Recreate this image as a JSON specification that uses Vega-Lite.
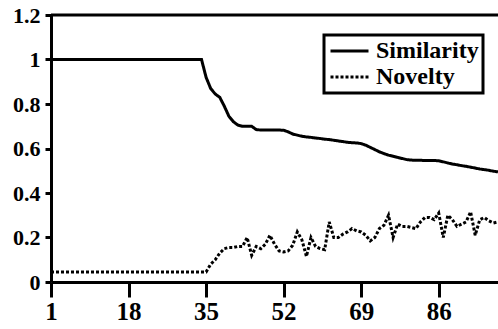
{
  "$schema": "https://vega.github.io/schema/vega-lite/v6.json",
  "width": 447,
  "height": 267,
  "autosize": {"type": "none"},
  "padding": {"left": 51, "top": 15, "right": 0, "bottom": 47},
  "background": "white",
  "config": {
    "view": {"stroke": null},
    "font": "Liberation Serif",
    "axis": {
      "grid": false,
      "domainColor": "black",
      "domainWidth": 3,
      "tickColor": "black",
      "tickWidth": 3,
      "labelColor": "black",
      "title": null
    }
  },
  "datasets": {
    "series": [
      {"x": 1, "series": "Similarity", "value": 1.0},
      {"x": 2, "series": "Similarity", "value": 1.0},
      {"x": 3, "series": "Similarity", "value": 1.0},
      {"x": 4, "series": "Similarity", "value": 1.0},
      {"x": 5, "series": "Similarity", "value": 1.0},
      {"x": 6, "series": "Similarity", "value": 1.0},
      {"x": 7, "series": "Similarity", "value": 1.0},
      {"x": 8, "series": "Similarity", "value": 1.0},
      {"x": 9, "series": "Similarity", "value": 1.0},
      {"x": 10, "series": "Similarity", "value": 1.0},
      {"x": 11, "series": "Similarity", "value": 1.0},
      {"x": 12, "series": "Similarity", "value": 1.0},
      {"x": 13, "series": "Similarity", "value": 1.0},
      {"x": 14, "series": "Similarity", "value": 1.0},
      {"x": 15, "series": "Similarity", "value": 1.0},
      {"x": 16, "series": "Similarity", "value": 1.0},
      {"x": 17, "series": "Similarity", "value": 1.0},
      {"x": 18, "series": "Similarity", "value": 1.0},
      {"x": 19, "series": "Similarity", "value": 1.0},
      {"x": 20, "series": "Similarity", "value": 1.0},
      {"x": 21, "series": "Similarity", "value": 1.0},
      {"x": 22, "series": "Similarity", "value": 1.0},
      {"x": 23, "series": "Similarity", "value": 1.0},
      {"x": 24, "series": "Similarity", "value": 1.0},
      {"x": 25, "series": "Similarity", "value": 1.0},
      {"x": 26, "series": "Similarity", "value": 1.0},
      {"x": 27, "series": "Similarity", "value": 1.0},
      {"x": 28, "series": "Similarity", "value": 1.0},
      {"x": 29, "series": "Similarity", "value": 1.0},
      {"x": 30, "series": "Similarity", "value": 1.0},
      {"x": 31, "series": "Similarity", "value": 1.0},
      {"x": 32, "series": "Similarity", "value": 1.0},
      {"x": 33, "series": "Similarity", "value": 1.0},
      {"x": 34, "series": "Similarity", "value": 1.0},
      {"x": 35, "series": "Similarity", "value": 0.92},
      {"x": 36, "series": "Similarity", "value": 0.87},
      {"x": 37, "series": "Similarity", "value": 0.845},
      {"x": 38, "series": "Similarity", "value": 0.83},
      {"x": 39, "series": "Similarity", "value": 0.79},
      {"x": 40, "series": "Similarity", "value": 0.745},
      {"x": 41, "series": "Similarity", "value": 0.72},
      {"x": 42, "series": "Similarity", "value": 0.705},
      {"x": 43, "series": "Similarity", "value": 0.7},
      {"x": 44, "series": "Similarity", "value": 0.7},
      {"x": 45, "series": "Similarity", "value": 0.7},
      {"x": 46, "series": "Similarity", "value": 0.685},
      {"x": 47, "series": "Similarity", "value": 0.683},
      {"x": 48, "series": "Similarity", "value": 0.683},
      {"x": 49, "series": "Similarity", "value": 0.683},
      {"x": 50, "series": "Similarity", "value": 0.683},
      {"x": 51, "series": "Similarity", "value": 0.683},
      {"x": 52, "series": "Similarity", "value": 0.682},
      {"x": 53, "series": "Similarity", "value": 0.675},
      {"x": 54, "series": "Similarity", "value": 0.665},
      {"x": 55, "series": "Similarity", "value": 0.66},
      {"x": 56, "series": "Similarity", "value": 0.655},
      {"x": 57, "series": "Similarity", "value": 0.652},
      {"x": 58, "series": "Similarity", "value": 0.65},
      {"x": 59, "series": "Similarity", "value": 0.647},
      {"x": 60, "series": "Similarity", "value": 0.645},
      {"x": 61, "series": "Similarity", "value": 0.642},
      {"x": 62, "series": "Similarity", "value": 0.64},
      {"x": 63, "series": "Similarity", "value": 0.637},
      {"x": 64, "series": "Similarity", "value": 0.634},
      {"x": 65, "series": "Similarity", "value": 0.631},
      {"x": 66, "series": "Similarity", "value": 0.628},
      {"x": 67, "series": "Similarity", "value": 0.626},
      {"x": 68, "series": "Similarity", "value": 0.625},
      {"x": 69, "series": "Similarity", "value": 0.622},
      {"x": 70, "series": "Similarity", "value": 0.615},
      {"x": 71, "series": "Similarity", "value": 0.605},
      {"x": 72, "series": "Similarity", "value": 0.595},
      {"x": 73, "series": "Similarity", "value": 0.585},
      {"x": 74, "series": "Similarity", "value": 0.577},
      {"x": 75, "series": "Similarity", "value": 0.57},
      {"x": 76, "series": "Similarity", "value": 0.565},
      {"x": 77, "series": "Similarity", "value": 0.56},
      {"x": 78, "series": "Similarity", "value": 0.555},
      {"x": 79, "series": "Similarity", "value": 0.55},
      {"x": 80, "series": "Similarity", "value": 0.548},
      {"x": 81, "series": "Similarity", "value": 0.547},
      {"x": 82, "series": "Similarity", "value": 0.547},
      {"x": 83, "series": "Similarity", "value": 0.546},
      {"x": 84, "series": "Similarity", "value": 0.546},
      {"x": 85, "series": "Similarity", "value": 0.546},
      {"x": 86, "series": "Similarity", "value": 0.545},
      {"x": 87, "series": "Similarity", "value": 0.54},
      {"x": 88, "series": "Similarity", "value": 0.535},
      {"x": 89, "series": "Similarity", "value": 0.53},
      {"x": 90, "series": "Similarity", "value": 0.527},
      {"x": 91, "series": "Similarity", "value": 0.523},
      {"x": 92, "series": "Similarity", "value": 0.52},
      {"x": 93, "series": "Similarity", "value": 0.516},
      {"x": 94, "series": "Similarity", "value": 0.512},
      {"x": 95, "series": "Similarity", "value": 0.508},
      {"x": 96, "series": "Similarity", "value": 0.505},
      {"x": 97, "series": "Similarity", "value": 0.502},
      {"x": 98, "series": "Similarity", "value": 0.498},
      {"x": 99, "series": "Similarity", "value": 0.495},
      {"x": 1, "series": "Novelty", "value": 0.045},
      {"x": 2, "series": "Novelty", "value": 0.045},
      {"x": 3, "series": "Novelty", "value": 0.045},
      {"x": 4, "series": "Novelty", "value": 0.045},
      {"x": 5, "series": "Novelty", "value": 0.045},
      {"x": 6, "series": "Novelty", "value": 0.045},
      {"x": 7, "series": "Novelty", "value": 0.045},
      {"x": 8, "series": "Novelty", "value": 0.045},
      {"x": 9, "series": "Novelty", "value": 0.045},
      {"x": 10, "series": "Novelty", "value": 0.045},
      {"x": 11, "series": "Novelty", "value": 0.045},
      {"x": 12, "series": "Novelty", "value": 0.045},
      {"x": 13, "series": "Novelty", "value": 0.045},
      {"x": 14, "series": "Novelty", "value": 0.045},
      {"x": 15, "series": "Novelty", "value": 0.045},
      {"x": 16, "series": "Novelty", "value": 0.045},
      {"x": 17, "series": "Novelty", "value": 0.045},
      {"x": 18, "series": "Novelty", "value": 0.045},
      {"x": 19, "series": "Novelty", "value": 0.045},
      {"x": 20, "series": "Novelty", "value": 0.045},
      {"x": 21, "series": "Novelty", "value": 0.045},
      {"x": 22, "series": "Novelty", "value": 0.045},
      {"x": 23, "series": "Novelty", "value": 0.045},
      {"x": 24, "series": "Novelty", "value": 0.045},
      {"x": 25, "series": "Novelty", "value": 0.045},
      {"x": 26, "series": "Novelty", "value": 0.045},
      {"x": 27, "series": "Novelty", "value": 0.045},
      {"x": 28, "series": "Novelty", "value": 0.045},
      {"x": 29, "series": "Novelty", "value": 0.045},
      {"x": 30, "series": "Novelty", "value": 0.045},
      {"x": 31, "series": "Novelty", "value": 0.045},
      {"x": 32, "series": "Novelty", "value": 0.045},
      {"x": 33, "series": "Novelty", "value": 0.045},
      {"x": 34, "series": "Novelty", "value": 0.045},
      {"x": 35, "series": "Novelty", "value": 0.045},
      {"x": 36, "series": "Novelty", "value": 0.08},
      {"x": 37, "series": "Novelty", "value": 0.1},
      {"x": 38, "series": "Novelty", "value": 0.13},
      {"x": 39, "series": "Novelty", "value": 0.15},
      {"x": 40, "series": "Novelty", "value": 0.155},
      {"x": 41, "series": "Novelty", "value": 0.155},
      {"x": 42, "series": "Novelty", "value": 0.16},
      {"x": 43, "series": "Novelty", "value": 0.16},
      {"x": 44, "series": "Novelty", "value": 0.2},
      {"x": 45, "series": "Novelty", "value": 0.12},
      {"x": 46, "series": "Novelty", "value": 0.16},
      {"x": 47, "series": "Novelty", "value": 0.15},
      {"x": 48, "series": "Novelty", "value": 0.17},
      {"x": 49, "series": "Novelty", "value": 0.21},
      {"x": 50, "series": "Novelty", "value": 0.17},
      {"x": 51, "series": "Novelty", "value": 0.14},
      {"x": 52, "series": "Novelty", "value": 0.135},
      {"x": 53, "series": "Novelty", "value": 0.14},
      {"x": 54, "series": "Novelty", "value": 0.165},
      {"x": 55, "series": "Novelty", "value": 0.225},
      {"x": 56, "series": "Novelty", "value": 0.19},
      {"x": 57, "series": "Novelty", "value": 0.115},
      {"x": 58, "series": "Novelty", "value": 0.2},
      {"x": 59, "series": "Novelty", "value": 0.16},
      {"x": 60, "series": "Novelty", "value": 0.15},
      {"x": 61, "series": "Novelty", "value": 0.145},
      {"x": 62, "series": "Novelty", "value": 0.27},
      {"x": 63, "series": "Novelty", "value": 0.2},
      {"x": 64, "series": "Novelty", "value": 0.2},
      {"x": 65, "series": "Novelty", "value": 0.215},
      {"x": 66, "series": "Novelty", "value": 0.225},
      {"x": 67, "series": "Novelty", "value": 0.24},
      {"x": 68, "series": "Novelty", "value": 0.23},
      {"x": 69, "series": "Novelty", "value": 0.225},
      {"x": 70, "series": "Novelty", "value": 0.21},
      {"x": 71, "series": "Novelty", "value": 0.185},
      {"x": 72, "series": "Novelty", "value": 0.2},
      {"x": 73, "series": "Novelty", "value": 0.24},
      {"x": 74, "series": "Novelty", "value": 0.255},
      {"x": 75, "series": "Novelty", "value": 0.3},
      {"x": 76, "series": "Novelty", "value": 0.2},
      {"x": 77, "series": "Novelty", "value": 0.26},
      {"x": 78, "series": "Novelty", "value": 0.25},
      {"x": 79, "series": "Novelty", "value": 0.25},
      {"x": 80, "series": "Novelty", "value": 0.245},
      {"x": 81, "series": "Novelty", "value": 0.24},
      {"x": 82, "series": "Novelty", "value": 0.27},
      {"x": 83, "series": "Novelty", "value": 0.29},
      {"x": 84, "series": "Novelty", "value": 0.29},
      {"x": 85, "series": "Novelty", "value": 0.28},
      {"x": 86, "series": "Novelty", "value": 0.31},
      {"x": 87, "series": "Novelty", "value": 0.2},
      {"x": 88, "series": "Novelty", "value": 0.3},
      {"x": 89, "series": "Novelty", "value": 0.28},
      {"x": 90, "series": "Novelty", "value": 0.25},
      {"x": 91, "series": "Novelty", "value": 0.26},
      {"x": 92, "series": "Novelty", "value": 0.27},
      {"x": 93, "series": "Novelty", "value": 0.315},
      {"x": 94, "series": "Novelty", "value": 0.21},
      {"x": 95, "series": "Novelty", "value": 0.28},
      {"x": 96, "series": "Novelty", "value": 0.29},
      {"x": 97, "series": "Novelty", "value": 0.275},
      {"x": 98, "series": "Novelty", "value": 0.265},
      {"x": 99, "series": "Novelty", "value": 0.27}
    ],
    "frame": [{"level": 1.2}]
  },
  "layer": [
    {
      "data": {"name": "series"},
      "mark": {"type": "line", "strokeWidth": 3, "clip": true},
      "encoding": {
        "x": {
          "field": "x",
          "type": "quantitative",
          "scale": {"domain": [1, 99], "nice": false, "zero": false},
          "axis": {
            "values": [1, 18, 35, 52, 69, 86],
            "tickSize": 15,
            "labelFont": "Liberation Serif",
            "labelFontWeight": "bold",
            "labelFontSize": 25,
            "labelPadding": 2,
            "labelFlush": false
          }
        },
        "y": {
          "field": "value",
          "type": "quantitative",
          "scale": {"domain": [0, 1.2], "nice": false},
          "axis": {
            "values": [0, 0.2, 0.4, 0.6, 0.8, 1, 1.2],
            "tickSize": 6,
            "labelFont": "Liberation Serif",
            "labelFontWeight": "bold",
            "labelFontSize": 22,
            "labelPadding": 5,
            "labelFlush": false,
            "format": "~g"
          }
        },
        "color": {
          "field": "series",
          "type": "nominal",
          "scale": {"domain": ["Similarity", "Novelty"], "range": ["black", "black"]},
          "legend": {
            "title": null,
            "orient": "none",
            "legendX": 273,
            "legendY": 20,
            "strokeColor": "black",
            "padding": 4,
            "symbolType": "M-1,0H3",
            "symbolSize": 361,
            "symbolStrokeWidth": 3,
            "labelFont": "Liberation Serif",
            "labelFontWeight": "bold",
            "labelFontSize": 24,
            "labelColor": "black",
            "labelOffset": 24,
            "rowPadding": 2,
            "encode": {"legend": {"update": {"strokeWidth": {"value": 3}}}}
          }
        },
        "strokeDash": {
          "field": "series",
          "type": "nominal",
          "scale": {"domain": ["Similarity", "Novelty"], "range": [[1, 0], [3, 2]]},
          "legend": {
            "title": null,
            "orient": "none",
            "legendX": 273,
            "legendY": 20,
            "strokeColor": "black",
            "padding": 4,
            "symbolType": "M-1,0H3",
            "symbolSize": 361,
            "symbolStrokeWidth": 3,
            "labelFont": "Liberation Serif",
            "labelFontWeight": "bold",
            "labelFontSize": 24,
            "labelColor": "black",
            "labelOffset": 24,
            "rowPadding": 2,
            "encode": {"legend": {"update": {"strokeWidth": {"value": 3}}}}
          }
        }
      }
    },
    {
      "data": {"name": "frame"},
      "mark": {"type": "rule", "strokeWidth": 3, "color": "black"},
      "encoding": {"y": {"field": "level", "type": "quantitative"}}
    }
  ]
}
